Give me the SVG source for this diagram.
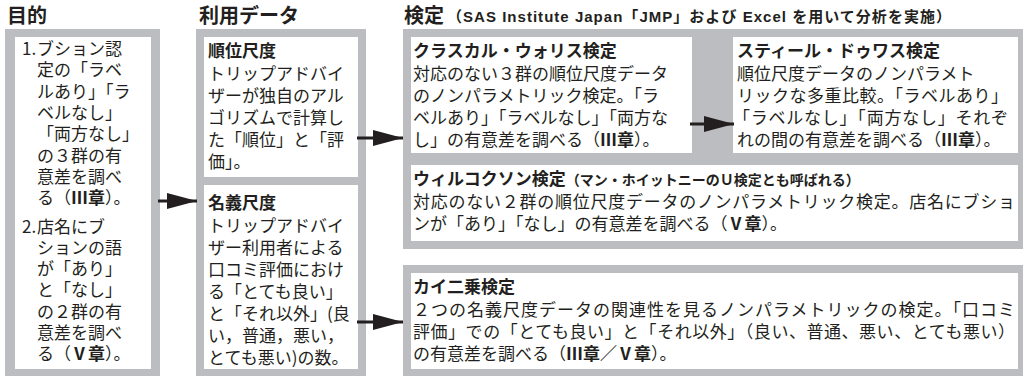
<svg xmlns="http://www.w3.org/2000/svg" width="1023" height="376" viewBox="0 0 1023 376">
<style>
text{font-family:"Noto Sans CJK JP","Noto Sans",sans-serif;fill:#231f20}
.b{font-size:17px}
.h{font-size:17px;font-weight:bold}
.H{font-size:20px;font-weight:bold}
.s{font-size:14px;font-weight:bold}
.sl{font-family:"Liberation Sans","Noto Sans CJK JP",sans-serif;font-size:15px;font-weight:bold}
.g{fill:#bbbdc0}
.w{fill:#ffffff}
.bd{font-weight:bold}
</style>
<defs>
<marker id="ah" viewBox="0 0 30 16" refX="30" refY="8" markerWidth="30" markerHeight="16" markerUnits="userSpaceOnUse" orient="auto">
<path d="M0,0 L30,8 L0,16 Z" fill="#231f20"/>
</marker>
</defs>
<rect width="1023" height="376" fill="#ffffff"/>

<g id="headings">
<text class="H" x="7" y="23">目的</text>
<text class="H" x="199" y="23">利用データ</text>
<text class="H" x="404" y="23">検定</text>
<text class="sl" x="447" y="22" textLength="504" lengthAdjust="spacing">（SAS Institute Japan「JMP」および Excel を用いて分析を実施）</text>
</g>

<g id="purpose">
<rect class="g" x="5" y="29" width="155" height="347"/>
<rect class="w" x="15" y="37" width="136" height="332"/>
<text x="22" y="55" class="b">1.<tspan x="37">ブション認</tspan></text>
<text x="37" y="76.3" class="b">定の「ラベ</text>
<text x="37" y="97.6" class="b">ルあり」「ラ</text>
<text x="37" y="118.9" class="b">ベルなし」</text>
<text x="37" y="140.2" class="b">「両方なし」</text>
<text x="37" y="161.5" class="b">の３群の有</text>
<text x="37" y="182.8" class="b">意差を調べ</text>
<text x="37" y="204.1" class="b">る（<tspan class="bd">Ⅲ章</tspan>）。</text>
<text x="22" y="232.5" class="b">2.<tspan x="37">店名にブ</tspan></text>
<text x="37" y="253.8" class="b">ションの語</text>
<text x="37" y="275.1" class="b">が「あり」</text>
<text x="37" y="296.4" class="b">と「なし」</text>
<text x="37" y="317.7" class="b">の２群の有</text>
<text x="37" y="339" class="b">意差を調べ</text>
<text x="37" y="360.3" class="b">る（<tspan class="bd">Ⅴ章</tspan>）。</text>
</g>

<g id="data">
<rect class="g" x="196" y="29" width="170" height="347"/>
<g id="ordinal">
<rect class="w" x="204" y="37" width="154" height="140"/>
<text x="208" y="57" class="h">順位尺度</text>
<text x="208" y="80" class="b">トリップアドバイ</text>
<text x="208" y="102" class="b">ザーが独自のアル</text>
<text x="208" y="124" class="b">ゴリズムで計算し</text>
<text x="208" y="146" class="b">た「順位」と「評</text>
<text x="208" y="168" class="b">価」。</text>
</g>
<g id="nominal">
<rect class="w" x="204" y="185" width="154" height="184"/>
<text x="208" y="209" class="h">名義尺度</text>
<text x="208" y="232" class="b">トリップアドバイ</text>
<text x="208" y="254" class="b">ザー利用者による</text>
<text x="208" y="276" class="b">口コミ評価におけ</text>
<text x="208" y="298" class="b">る「とても良い」</text>
<text x="208" y="320" class="b">と「それ以外」(良</text>
<text x="208" y="342" class="b">い，普通，悪い，</text>
<text x="208" y="364" class="b">とても悪い)の数。</text>
</g>
</g>

<g id="tests-upper">
<rect class="g" x="403" y="29" width="620" height="220"/>
<g id="kruskal">
<rect class="w" x="411" y="37" width="281" height="116"/>
<text x="413" y="57" class="h">クラスカル・ウォリス検定</text>
<text x="413" y="80" class="b">対応のない３群の順位尺度データ</text>
<text x="413" y="102" class="b">のノンパラメトリック検定。「ラ</text>
<text x="413" y="124" class="b">ベルあり」「ラベルなし」「両方な</text>
<text x="413" y="146" class="b">し」の有意差を調べる（<tspan class="bd">Ⅲ章</tspan>）。</text>
</g>
<g id="steel">
<rect class="w" x="733" y="37" width="285" height="116"/>
<text x="737" y="57" class="h">スティール・ドゥワス検定</text>
<text x="737" y="80" class="b">順位尺度データのノンパラメト</text>
<text x="737" y="102" class="b" textLength="271">リックな多重比較。「ラベルあり」</text>
<text x="733" y="124" class="b" textLength="275">「ラベルなし」「両方なし」それぞ</text>
<text x="737" y="146" class="b">れの間の有意差を調べる（<tspan class="bd">Ⅲ章</tspan>）。</text>
</g>
<g id="wilcoxon">
<rect class="w" x="411" y="165" width="607" height="76"/>
<text x="413" y="185" class="h">ウィルコクソン検定<tspan class="s">（マン・ホイットニーのＵ検定とも呼ばれる）</tspan></text>
<text x="413" y="208" class="b" textLength="602">対応のない２群の順位尺度データのノンパラメトリック検定。店名にブショ</text>
<text x="413" y="230" class="b">ンが「あり」「なし」の有意差を調べる（<tspan class="bd">Ⅴ章</tspan>）。</text>
</g>
</g>

<g id="tests-lower">
<rect class="g" x="403" y="265" width="620" height="111"/>
<g id="chisq">
<rect class="w" x="411" y="273" width="607" height="96"/>
<text x="413" y="293" class="h">カイ二乗検定</text>
<text x="413" y="316" class="b" textLength="602">２つの名義尺度データの関連性を見るノンパラメトリックの検定。「口コミ</text>
<text x="413" y="338" class="b" textLength="602">評価」での「とても良い」と「それ以外」（良い、普通、悪い、とても悪い）</text>
<text x="413" y="360" class="b">の有意差を調べる（<tspan class="bd">Ⅲ章／Ⅴ章</tspan>）。</text>
</g>
</g>

<g id="connectors" stroke="#231f20" stroke-width="3" fill="none">
<line x1="158" y1="201" x2="197" y2="201" marker-end="url(#ah)"/>
<line x1="357" y1="138" x2="403" y2="138" marker-end="url(#ah)"/>
<line x1="357" y1="322" x2="403" y2="322" marker-end="url(#ah)"/>
<line x1="690" y1="124" x2="734" y2="124" marker-end="url(#ah)"/>
</g>
</svg>
